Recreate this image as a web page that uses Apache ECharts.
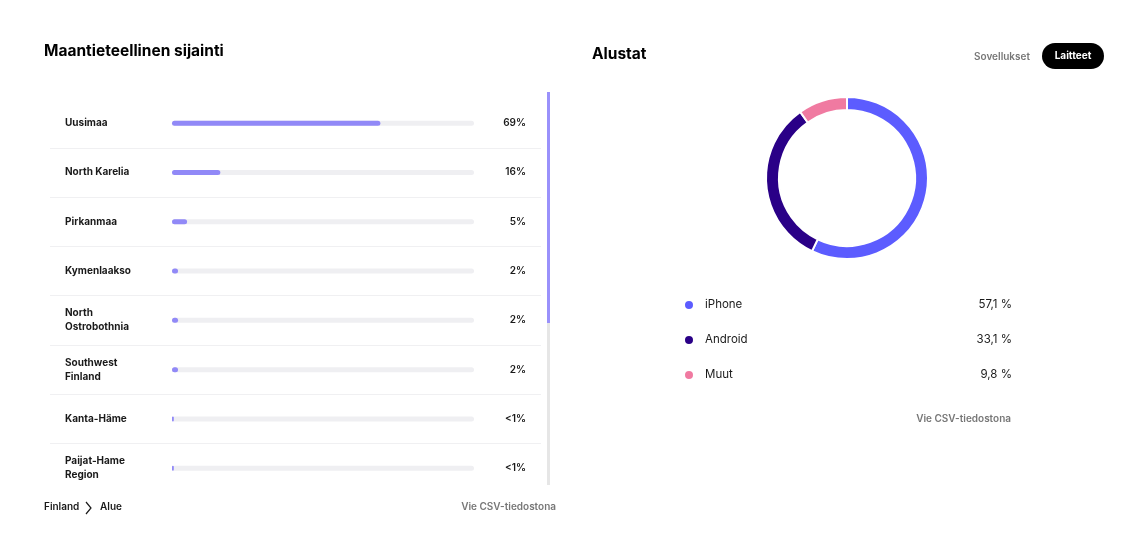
<!DOCTYPE html>
<html>
<head>
<meta charset="utf-8">
<script src="https://cdn.jsdelivr.net/npm/echarts@6/dist/echarts.min.js"></script>
<style>
html,body{margin:0;padding:0;background:#fff;}
#chart{width:1139px;height:551px;}
</style>
</head>
<body>
<div id="chart"></div>
<script>
// ---- data ----
const regions = ['Uusimaa', 'North Karelia', 'Pirkanmaa', 'Kymenlaakso', 'North\nOstrobothnia', 'Southwest\nFinland', 'Kanta-Häme', 'Paijat-Hame\nRegion'];
const regionShares = [69, 16, 5, 2, 2, 2, 0.6, 0.6];
const regionLabels = ['69%', '16%', '5%', '2%', '2%', '2%', '<1%', '<1%'];
const devices = ['iPhone', 'Android', 'Muut'];
const deviceShares = [57.1, 33.1, 9.8];
const deviceColors = ['#5c5cff', '#2a0087', '#f07aa1'];

const FONT = 'Inter, "Noto Sans", sans-serif';
const fmt = v => v.toFixed(1).replace('.', ',') + ' %';

const chart = echarts.init(document.getElementById('chart'), null, {renderer: 'canvas'});

const rowTop = 98.5, rowH = 49.3 * regions.length;

const option = {
  animation: false,
  textStyle: {fontFamily: FONT},
  title: [
    {text: 'Maantieteellinen sijainti', left: 44, top: 43, padding: 0,
     textStyle: {fontFamily: FONT, fontSize: 15.5, fontWeight: 700, color: '#000'}},
    {text: 'Alustat', left: 592, top: 46, padding: 0,
     textStyle: {fontFamily: FONT, fontSize: 15.5, fontWeight: 700, color: '#000'}}
  ],
  grid: [
    {left: 172, right: 1139 - 474, top: rowTop, height: rowH, containLabel: false},
    {left: 50, right: 1139 - 541, top: rowTop, height: rowH, containLabel: false}
  ],
  xAxis: [
    {gridIndex: 0, type: 'value', min: 0, max: 100, show: false},
    {gridIndex: 1, type: 'value', min: 0, max: 100, show: false}
  ],
  yAxis: [
    {gridIndex: 0, type: 'category', data: regions, inverse: true,
     axisLine: {show: false}, axisTick: {show: false}, splitLine: {show: false},
     axisLabel: {align: 'left', margin: 107, fontFamily: FONT, fontSize: 10, fontWeight: 700,
                 color: '#1a1a1a', lineHeight: 14}},
    {gridIndex: 0, type: 'category', data: regionLabels, inverse: true, position: 'right',
     axisLine: {show: false}, axisTick: {show: false}, splitLine: {show: false},
     axisLabel: {align: 'right', margin: 52, fontFamily: FONT, fontSize: 10, fontWeight: 600,
                 color: '#1a1a1a'}},
    {gridIndex: 1, type: 'category', data: regions, inverse: true,
     axisLine: {show: false}, axisTick: {show: false}, axisLabel: {show: false},
     splitLine: {show: true, interval: (i) => i > 0, lineStyle: {color: '#f0f0f2', width: 1}}}
  ],
  legend: {
    orient: 'vertical', left: 678, top: 294, itemWidth: 20, itemHeight: 10, itemGap: 23,
    icon: 'circle', selectedMode: false,
    data: devices,
    formatter: name => '{a|' + name + '}{b|' + fmt(deviceShares[devices.indexOf(name)]) + '}',
    textStyle: {
      fontFamily: FONT,
      rich: {
        a: {fontFamily: FONT, fontSize: 11.5, color: '#1a1a1a', width: 130, lineHeight: 14, padding: [0, 0, 0, 1]},
        b: {fontFamily: FONT, fontSize: 11.5, color: '#1a1a1a', width: 177, align: 'right', lineHeight: 14}
      }
    }
  },
  series: [
    {
      type: 'bar', xAxisIndex: 0, yAxisIndex: 0,
      data: regionShares, barWidth: 5, silent: true,
      itemStyle: {color: '#9189f7', borderRadius: 3},
      showBackground: true,
      backgroundStyle: {color: '#efeff2', borderRadius: 3}
    },
    {
      type: 'pie', center: [847, 178], radius: [68, 81], startAngle: 90, clockwise: true,
      silent: true, label: {show: false}, labelLine: {show: false},
      itemStyle: {borderColor: '#fff', borderWidth: 2},
      data: devices.map((d, i) => ({name: d, value: deviceShares[i], itemStyle: {color: deviceColors[i]}}))
    }
  ],
  graphic: [
    // clip bottom of scrolled list
    {type: 'rect', shape: {x: 40, y: 481, width: 505, height: 14}, style: {fill: '#fff'}, z: 100},
    // scrollbar
    {type: 'rect', shape: {x: 547, y: 92, width: 3, height: 393}, style: {fill: '#e6e6e6'}, z: 101},
    {type: 'rect', shape: {x: 547, y: 92, width: 3, height: 231}, style: {fill: '#9a91fb'}, z: 102},
    // breadcrumb
    {type: 'text', left: 44, top: 502, z: 101,
     style: {text: 'Finland', font: '600 10px ' + FONT, fill: '#1a1a1a'}},
    {type: 'polyline', shape: {points: [[86, 502], [91, 508], [86, 514]]}, z: 101,
     style: {stroke: '#1a1a1a', lineWidth: 1.2, fill: null}},
    {type: 'text', left: 100, top: 502, z: 101,
     style: {text: 'Alue', font: '600 10px ' + FONT, fill: '#1a1a1a'}},
    {type: 'text', right: 1139 - 556, top: 502, z: 101,
     style: {text: 'Vie CSV-tiedostona', font: '600 10px ' + FONT, fill: '#777'}},
    {type: 'text', right: 1139 - 1011, top: 414,
     style: {text: 'Vie CSV-tiedostona', font: '600 10px ' + FONT, fill: '#777'}},
    // toggle
    {type: 'text', right: 1139 - 1030, top: 52,
     style: {text: 'Sovellukset', font: '600 10px ' + FONT, fill: '#777'}},
    {type: 'rect', shape: {x: 1042, y: 43, width: 62, height: 26, r: 13}, style: {fill: '#000'}},
    {type: 'text', x: 1073, y: 56,
     style: {text: 'Laitteet', font: '700 10px ' + FONT, fill: '#fff', align: 'center', verticalAlign: 'middle'}}
  ]
};
chart.setOption(option);
</script>
</body>
</html>
